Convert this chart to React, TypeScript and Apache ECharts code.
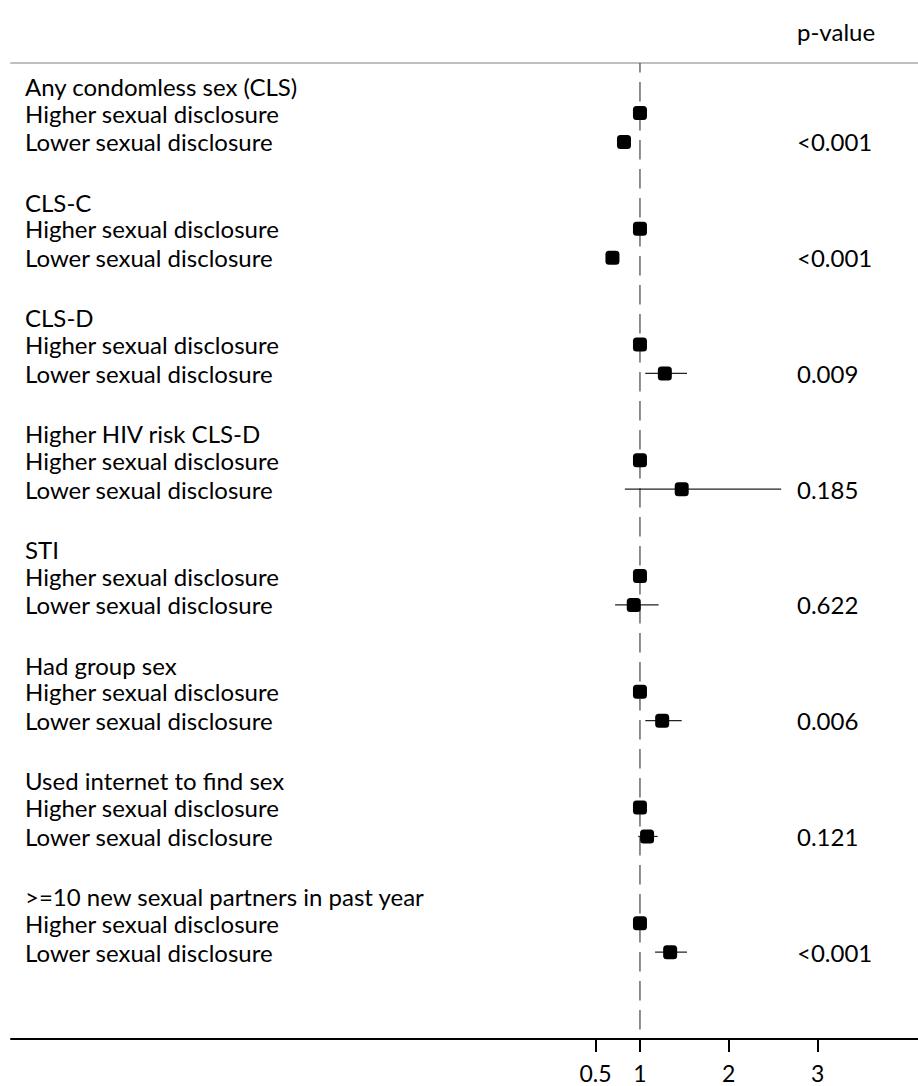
import React, { useEffect, useRef } from "react";
import * as echarts from "echarts";

const groupTitles = [
  "Any condomless sex (CLS)",
  "CLS-C",
  "CLS-D",
  "Higher HIV risk CLS-D",
  "STI",
  "Had group sex",
  "Used internet to find sex",
  ">=10 new sexual partners in past year",
];
const subLabels = ["Higher sexual disclosure", "Lower sexual disclosure"];
const higherOR = [1, 1, 1, 1, 1, 1, 1, 1];
const lowerOR = [0.82, 0.69, 1.28, 1.47, 0.93, 1.25, 1.08, 1.34];
const lowerLo = [0.78, 0.65, 1.06, 0.83, 0.72, 1.06, 0.98, 1.17];
const lowerHi = [0.87, 0.73, 1.53, 2.59, 1.21, 1.47, 1.2, 1.53];
const pValues = ["<0.001", "<0.001", "0.009", "0.185", "0.622", "0.006", "0.121", "<0.001"];
const xTicks = [0.5, 1, 2, 3];
const refValue = 1;

const FONT = "Lato, 'Liberation Sans', sans-serif";
const FS = 24;

export default function App() {
  const ref = useRef<HTMLDivElement>(null);
  useEffect(() => {
    if (!ref.current) return;
    const chart = echarts.init(ref.current, undefined, { renderer: "svg" });

    const rowsPerGroup = 4;
    const labelTexts: string[] = [];
    const labelRows: number[][] = [];
    groupTitles.forEach((t, g) => {
      labelTexts.push(t);
      labelRows.push([0, g * rowsPerGroup + 0.08]);
      subLabels.forEach((s, k) => {
        labelTexts.push(s);
        labelRows.push([0, g * rowsPerGroup + 1 + k]);
      });
    });
    const higherPts = higherOR.map((v, g) => [v, g * rowsPerGroup + 1]);
    const lowerPts = lowerOR.map((v, g) => [v, g * rowsPerGroup + 2]);
    const ciData = lowerOR.map((_, g) => [lowerLo[g], lowerHi[g], g * rowsPerGroup + 2]);
    const pData = pValues.map((_, g) => [0, g * rowsPerGroup + 2]);

    const yMin = -0.728;
    const yMax = 33.0;
    const xMin = -6.083;
    const xMax = 4.131;

    const textItem = (texts: string[], xPix: number) => (params: any, api: any) => {
      const y = api.coord([0, api.value(1)])[1];
      return {
        type: "text",
        x: xPix,
        y: y,
        style: {
          text: texts[params.dataIndex],
          fontSize: FS,
          fontFamily: FONT,
          fill: "#000",
          align: "left",
          verticalAlign: "middle",
        },
      };
    };

    chart.setOption({
      animation: false,
      backgroundColor: "#fff",
      grid: { left: 11, right: 0, top: 63, bottom: 47, containLabel: false },
      xAxis: [
        {
          type: "value",
          position: "bottom",
          min: xMin,
          max: xMax,
          splitLine: { show: false },
          axisLine: { show: true, onZero: false, lineStyle: { color: "#000", width: 2 } },
          axisTick: {
            show: true,
            customValues: xTicks,
            length: 13,
            lineStyle: { color: "#000", width: 2 },
          },
          axisLabel: {
            show: true,
            customValues: xTicks,
            margin: 22,
            fontSize: 23,
            fontFamily: FONT,
            color: "#000",
          },
        },
        {
          type: "value",
          position: "top",
          min: xMin,
          max: xMax,
          splitLine: { show: false },
          axisLine: { show: true, onZero: false, lineStyle: { color: "#bfbfbf", width: 2 } },
          axisTick: { show: false },
          axisLabel: { show: false },
        },
      ],
      yAxis: {
        type: "value",
        inverse: true,
        min: yMin,
        max: yMax,
        show: false,
        splitLine: { show: false },
      },
      graphic: [
        {
          type: "text",
          x: 797,
          y: 31,
          style: {
            text: "p-value",
            fontSize: FS,
            fontFamily: FONT,
            fill: "#000",
            align: "left",
            verticalAlign: "middle",
          },
        },
      ],
      series: [
        {
          type: "line",
          data: [
            [refValue, yMin],
            [refValue, yMax],
          ],
          symbol: "none",
          lineStyle: { color: "#444", width: 1.2, type: [19.5, 9.5], dashOffset: 10 },
          z: 1,
          silent: true,
        },
        {
          type: "custom",
          data: ciData,
          renderItem: (params: any, api: any) => {
            const a = api.coord([api.value(0), api.value(2)]);
            const b = api.coord([api.value(1), api.value(2)]);
            return {
              type: "line",
              shape: { x1: a[0], y1: a[1], x2: b[0], y2: b[1] },
              style: { stroke: "#222", lineWidth: 1.2 },
            };
          },
          z: 2,
          silent: true,
        },
        {
          type: "scatter",
          data: higherPts,
          symbol: "roundRect",
          symbolSize: 14,
          itemStyle: { color: "#000", opacity: 1 },
          z: 3,
        },
        {
          type: "scatter",
          data: lowerPts,
          symbol: "roundRect",
          symbolSize: 14,
          itemStyle: { color: "#000", opacity: 1 },
          z: 3,
        },
        {
          type: "custom",
          data: labelRows,
          renderItem: textItem(labelTexts, 25),
          silent: true,
          z: 4,
        },
        {
          type: "custom",
          data: pData,
          renderItem: textItem(pValues, 797),
          silent: true,
          z: 4,
        },
      ],
    });
    return () => chart.dispose();
  }, []);
  return (
    <div
      ref={ref}
      style={{ position: "absolute", left: 0, top: 0, width: 918, height: 1086 }}
    />
  );
}
